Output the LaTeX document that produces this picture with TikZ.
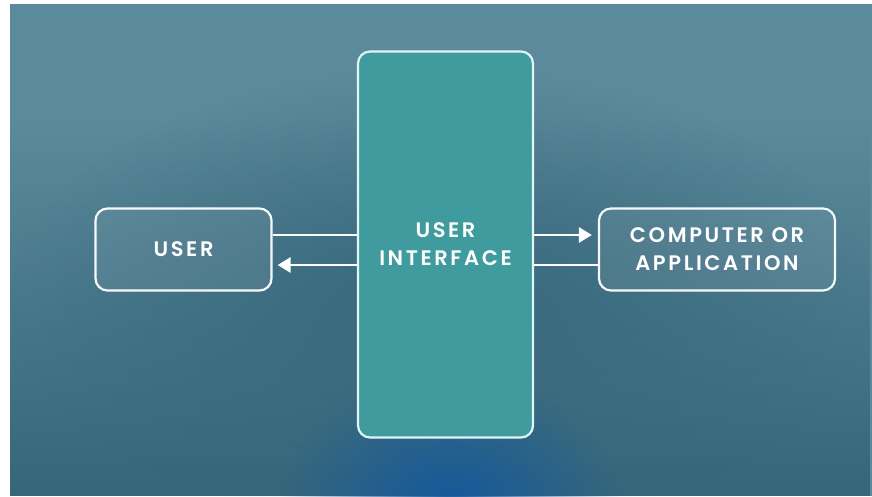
\documentclass[tikz,border=0pt]{standalone}
\usepackage{fontspec}
\usetikzlibrary{arrows.meta,fadings}
\newfontfamily\lab{Poppins SemiBold}[LetterSpace=12.5]
\definecolor{bglight}{HTML}{5B8A9C}
\definecolor{bgdark}{HTML}{36667A}
\definecolor{bgglow}{HTML}{15599C}
\definecolor{uifill}{HTML}{3F9B9D}
\definecolor{uiline}{HTML}{E2F4F4}
\tikzfading[name=glowfade, inner color=transparent!0, outer color=transparent!100]
\tikzset{
  lbl/.style={text=white, font=\lab\fontsize{21}{28}\selectfont, align=center},
  sidebox/.style={lbl, draw=white, line width=2.2pt, rounded corners=12pt, fill=white, fill opacity=0.08, text opacity=1, draw opacity=0.95},
  uibox/.style={lbl, draw=uiline, line width=2.2pt, rounded corners=12pt, fill=uifill},
  link/.style={draw=white, line width=2.8pt},
  tip/.style={-{Triangle[length=13pt,width=15pt]}}
}
\begin{document}
\begin{tikzpicture}[x=1pt,y=-1pt]
\useasboundingbox (0,0) rectangle (872,496);
\fill[white] (0,0) rectangle (872,496);
\begin{scope}
\clip (10,4) rectangle (872,496);
\fill[bglight] (10,4) rectangle (872,496);
\fill[bgdark, path fading=north] (10,120) rectangle (872,496);
\fill[bgdark, path fading=glowfade, opacity=0.9] (440,300) ellipse [x radius=430, y radius=230];
\fill[bgglow, path fading=glowfade] (450,505) ellipse [x radius=170, y radius=130];
\end{scope}
\node[sidebox, minimum width=176pt, minimum height=82pt] (user) at (183.5,249.5) {USER};
\node[sidebox, minimum width=236pt, minimum height=82pt] (comp) at (717,249.5) {COMPUTER OR\\APPLICATION};
\node[uibox, minimum width=175pt, minimum height=386pt] (ui) at (445.5,244.5) {USER\\INTERFACE};
\draw[link] (user.east |- 0,235) -- (ui.west |- 0,235);
\draw[link, tip, shorten >=5pt] (ui.west |- 0,265) -- (user.east |- 0,265);
\draw[link, tip, shorten >=6pt] (ui.east |- 0,235) -- (comp.west |- 0,235);
\draw[link] (comp.west |- 0,265) -- (ui.east |- 0,265);
\end{tikzpicture}
\end{document}
